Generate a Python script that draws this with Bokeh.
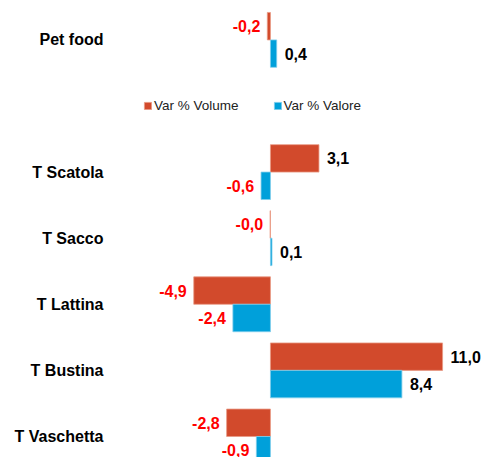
from bokeh.plotting import figure
from bokeh.models import ColumnDataSource, Range1d, FixedTicker, Legend, LegendItem
from bokeh.core.properties import value
from bokeh.embed import file_html
from bokeh.resources import INLINE

# Data (top to bottom as in the picture)
categories = ["Pet food", "T Scatola", "T Sacco", "T Lattina", "T Bustina", "T Vaschetta"]
var_volume = [-0.2, 3.1, -0.02, -4.9, 11.0, -2.8]
var_valore = [0.4, -0.6, 0.1, -2.4, 8.4, -0.9]
series_names = ["Var % Volume", "Var % Valore"]

ORANGE = "#D24A2C"
BLUE = "#00A0DA"
FONT = "Liberation Sans"

# slot positions: Pet food top, blank slot for legend, then the others
positions = [6, 4, 3, 2, 1, 0]
bar_h = 0.415
off = bar_h / 2


def fmt(v):
    return f"{v:.1f}".replace(".", ",")


def label_rows(vals, ypos):
    xs, ys, txt, col, align, xo = [], [], [], [], [], []
    for v, y in zip(vals, ypos):
        xs.append(v)
        ys.append(y)
        txt.append(fmt(v))
        neg = v < 0 or fmt(v).startswith("-")
        col.append("#FF0000" if neg else "#000000")
        align.append("right" if neg else "left")
        xo.append(-7 if neg else 8)
    return dict(x=xs, y=ys, text=txt, color=col, align=align, xo=xo)


vol_src = ColumnDataSource(dict(y=[p + off for p in positions], right=var_volume))
val_src = ColumnDataSource(dict(y=[p - off for p in positions], right=var_valore))

p = figure(width=482, height=457, output_backend="svg", toolbar_location=None,
           x_range=Range1d(-10.22, 13.55), y_range=Range1d(-0.318, 6.596),
           min_border_left=110, min_border_right=0, min_border_top=0, min_border_bottom=0,
           outline_line_color=None)

r1 = p.hbar(y="y", right="right", left=0, height=bar_h, source=vol_src,
            fill_color=ORANGE, line_color="#E89A85", line_width=0.8)
r2 = p.hbar(y="y", right="right", left=0, height=bar_h, source=val_src,
            fill_color=BLUE, line_color="#7FCDEB", line_width=0.8)

for vals, ys in ((var_volume, [p_ + off for p_ in positions]),
                 (var_valore, [p_ - off for p_ in positions])):
    src = ColumnDataSource(label_rows(vals, ys))
    p.text(x="x", y="y", text="text", source=src, text_color="color",
           text_align="align", x_offset="xo", text_baseline="middle",
           text_font=value(FONT), text_font_size="16px", text_font_style="bold")

p.xaxis.visible = False
p.xgrid.visible = False
p.ygrid.visible = False

yax = p.yaxis[0]
yax.ticker = FixedTicker(ticks=positions)
yax.major_label_overrides = {pos: c for pos, c in zip(positions, categories)}
yax.axis_line_color = None
yax.major_tick_line_color = None
yax.minor_tick_line_color = None
yax.major_tick_in = 0
yax.major_tick_out = 0
yax.major_label_standoff = 7
yax.major_label_text_font = FONT
yax.major_label_text_font_size = "16px"
yax.major_label_text_font_style = "bold"
yax.major_label_text_color = "#000000"

legend = Legend(items=[LegendItem(label=series_names[0], renderers=[r1]),
                       LegendItem(label=series_names[1], renderers=[r2])],
                orientation="horizontal", location=(33, 344),
                glyph_width=9, glyph_height=9, label_standoff=2, spacing=34,
                padding=0, margin=0, border_line_color=None,
                background_fill_alpha=0,
                label_text_font=FONT, label_text_font_size="13.5px",
                label_text_color="#222222")
p.add_layout(legend, "center")

open("out.html", "w").write(file_html(p, INLINE))
